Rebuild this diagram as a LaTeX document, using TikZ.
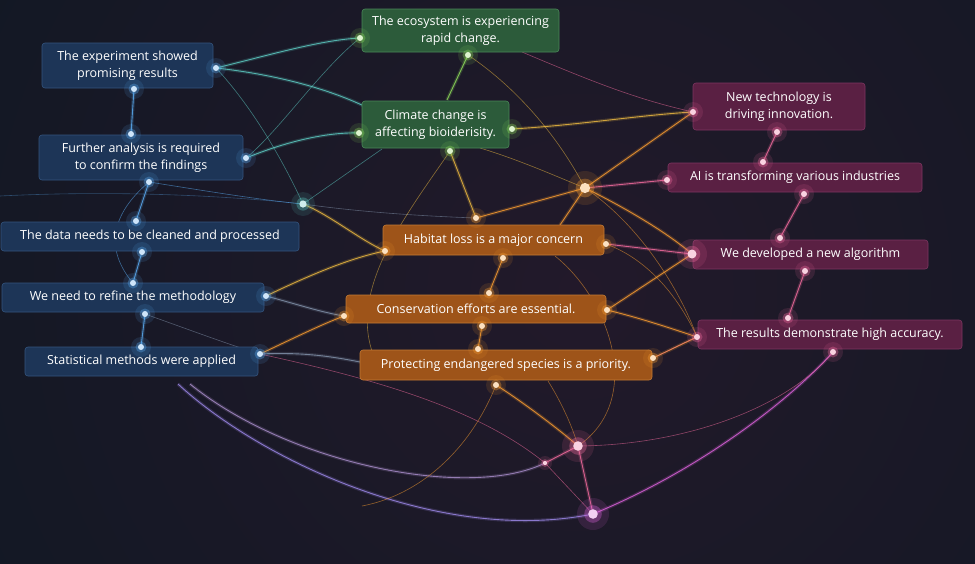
\documentclass[tikz,border=0pt]{standalone}
\usepackage{fontspec}
\setmainfont{Open Sans}
\definecolor{bg}{HTML}{121824}
\definecolor{bfill}{HTML}{1D3557}
\definecolor{bdraw}{HTML}{34547E}
\definecolor{gfill}{HTML}{2C5B3A}
\definecolor{gdraw}{HTML}{4A8758}
\definecolor{ofill}{HTML}{9E5419}
\definecolor{odraw}{HTML}{C47A34}
\definecolor{pfill}{HTML}{5A2043}
\definecolor{pdraw}{HTML}{7D3560}
\definecolor{cblue}{HTML}{5AAAF0}
\definecolor{cteal}{HTML}{5CC8C0}
\definecolor{cgreen}{HTML}{8EDB5A}
\definecolor{cyel}{HTML}{E8B640}
\definecolor{corange}{HTML}{F59A30}
\definecolor{cpink}{HTML}{F06A9C}
\definecolor{cmag}{HTML}{D860D8}
\definecolor{cgray}{HTML}{8090A8}
\definecolor{warm}{HTML}{22192A}
\newcommand{\glowdot}[3][1]{%
  \fill[#3, opacity=0.13] (#2) circle ({#1*10pt});
  \fill[#3, opacity=0.35] (#2) circle ({#1*5.5pt});
  \fill[#3!30!white] (#2) circle ({#1*3pt});}
\begin{document}
\begin{tikzpicture}[x=1pt,y=-1pt,
  font=\fontsize{12.5}{17}\selectfont,
  box/.style={rounded corners=3pt, align=center, text=white, inner sep=0pt, line width=0.6pt},
  bbox/.style={box, fill=bfill, draw=bdraw},
  gbox/.style={box, fill=gfill, draw=gdraw},
  obox/.style={box, fill=ofill, draw=odraw},
  pbox/.style={box, fill=pfill, draw=pdraw},
  ln/.style={line width=0.9pt, draw=#1, opacity=0.85, preaction={draw=#1, line width=3.4pt, opacity=0.2}},
  fl/.style={line width=0.6pt, draw=#1, opacity=0.55},
]
\useasboundingbox (0,0) rectangle (975,563);
\begin{scope}
\clip (0,0) rectangle (975,563);
\shade[inner color=warm, outer color=bg] (580,290) circle (700pt);
\end{scope}

% ---------- anchor points ----------
\coordinate (b1e) at (216,68);  \coordinate (b1s) at (134,89);
\coordinate (b2n) at (131,134); \coordinate (b2e) at (246,158); \coordinate (b2s) at (149,182);
\coordinate (b3n) at (136,221); \coordinate (b3s) at (142,252);
\coordinate (b4n) at (133,283); \coordinate (b4e) at (266,296); \coordinate (b4s) at (145,314);
\coordinate (b5n) at (141,347); \coordinate (b5e) at (260,354);
\coordinate (hubA) at (303,204);
\coordinate (lft) at (0,196);
\coordinate (g1w) at (360,38);  \coordinate (g1s) at (468,55); \coordinate (g1se) at (522,52);
\coordinate (g2n) at (447,100); \coordinate (g2w) at (359,133); \coordinate (g2e) at (512,129);
\coordinate (g2s) at (450,151); \coordinate (g2tl) at (364,106); \coordinate (g2bl) at (382,149);
\coordinate (g2se) at (480,148);
\coordinate (o1n) at (476,218); \coordinate (o1e) at (606,244); \coordinate (o1s) at (503,258);
\coordinate (o1w) at (385,251); \coordinate (o1tr) at (560,225); \coordinate (o1br) at (555,256);
\coordinate (o2n) at (489,293); \coordinate (o2w) at (344,316); \coordinate (o2e) at (607,310);
\coordinate (o2s) at (482,326);
\coordinate (o3n) at (478,349); \coordinate (o3e) at (653,358); \coordinate (o3s) at (496,385);
\coordinate (o3w) at (360,362); \coordinate (o3tl) at (372,351); \coordinate (o3b) at (548,381);
\coordinate (hubO) at (585,188);
\coordinate (p1w) at (693,112); \coordinate (p1s) at (777,132);
\coordinate (p2n) at (763,162); \coordinate (p2w) at (667,180); \coordinate (p2s) at (804,194);
\coordinate (p3n) at (780,238); \coordinate (p3w) at (692,254); \coordinate (p3s) at (805,271);
\coordinate (p4n) at (788,318); \coordinate (p4w) at (697,337); \coordinate (p4s) at (833,352);
\coordinate (hubP) at (578,446); \coordinate (hubM) at (593,514); \coordinate (smallP) at (545,463);
\coordinate (lowA) at (178,384); \coordinate (lowB) at (190,384); \coordinate (endF) at (362,506);

% ---------- connectors ----------
% left blue chain
\draw[ln=cblue] (b1s) -- (b2n);
\draw[ln=cblue] (b2s) -- (b3n);
\draw[ln=cblue] (b3s) -- (b4n);
\draw[ln=cblue] (b4s) -- (b5n);
\draw[fl=cblue] (b2s) .. controls (110,215) and (105,250) .. (b4n);
\draw[ln=cteal] (b1e) .. controls (270,55) and (320,40) .. (g1w);
\draw[ln=cteal] (b1e) .. controls (280,75) and (330,90) .. (g2tl);
\draw[fl=cteal] (b1e) .. controls (255,110) and (285,165) .. (hubA);
\draw[ln=cteal] (b2e) .. controls (290,140) and (330,132) .. (g2w);
\draw[fl=cteal] (b2e) .. controls (280,130) and (320,70) .. (g1w);
\draw[fl=cblue] (b2s) .. controls (200,190) and (260,200) .. (hubA);
\draw[fl=cblue, opacity=0.35] (lft) .. controls (120,190) and (230,196) .. (hubA);
\draw[fl=cteal] (hubA) -- (g2bl);
\draw[ln=cyel] (hubA) .. controls (330,215) and (360,240) .. (o1w);
\draw[fl=cgray] (hubA) .. controls (360,212) and (420,216) .. (o1n);
% green
\draw[ln=cgreen] (g1s) -- (g2n);
\draw[fl=cyel] (g1s) .. controls (520,90) and (560,140) .. (hubO);
\draw[fl=cpink] (g1se) .. controls (600,85) and (640,100) .. (p1w);
\draw[ln=cyel] (g2e) .. controls (580,125) and (640,115) .. (p1w);
\draw[ln=cyel] (g2s) -- (o1n);
\draw[fl=cyel] (g2se) .. controls (520,160) and (560,178) .. (hubO);
\draw[fl=cyel] (g2s) .. controls (410,210) and (350,285) .. (o3tl);
% orange hub
\draw[ln=corange] (hubO) -- (p1w);
\draw[ln=cpink] (hubO) -- (p2w);
\draw[ln=corange] (hubO) -- (o1n);
\draw[ln=corange] (hubO) -- (o1tr);
\draw[ln=corange] (hubO) .. controls (630,210) and (670,235) .. (p3w);
\draw[fl=corange] (hubO) .. controls (640,225) and (680,290) .. (p4w);
\draw[ln=cpink] (o1e) -- (p3w);
\draw[fl=corange] (o1e) .. controls (650,260) and (680,300) .. (p4w);
\draw[ln=corange] (o2e) -- (p3w);
\draw[ln=corange] (o2e) .. controls (640,318) and (670,328) .. (p4w);
\draw[ln=corange] (o3e) -- (p4w);
\draw[fl=cpink] (o3e) .. controls (670,350) and (685,342) .. (p4w);
\draw[ln=corange] (o1s) -- (o2n);
\draw[ln=corange] (o2s) -- (o3n);
\draw[fl=corange] (o1br) .. controls (610,300) and (645,400) .. (hubP);
% left to orange
\draw[ln=cyel] (b4e) .. controls (310,275) and (350,258) .. (o1w);
\draw[ln=cgray] (b4e) .. controls (300,305) and (320,312) .. (o2w);
\draw[ln=corange] (b5e) .. controls (290,340) and (320,325) .. (o2w);
\draw[ln=cgray] (b5e) .. controls (300,352) and (330,356) .. (o3w);
\draw[fl=cpink] (b5e) .. controls (380,380) and (480,410) .. (smallP);
\draw[fl=cgray] (b4s) .. controls (190,330) and (230,345) .. (b5e);
% pink chain
\draw[ln=cpink] (p1s) -- (p2n);
\draw[ln=cpink] (p2s) -- (p3n);
\draw[ln=cpink] (p3s) -- (p4n);
% bottom curves
\draw[ln=cblue!50!cmag] (lowA) .. controls (260,460) and (440,545) .. (hubM);
\draw[ln=cmag] (hubM) .. controls (700,470) and (790,400) .. (p4s);
\draw[ln=cblue!50!cpink] (lowB) .. controls (290,465) and (470,500) .. (smallP);
\draw[ln=cpink] (smallP) -- (hubP);
\draw[fl=cpink] (smallP) -- (hubM);
\draw[fl=cpink] (hubP) .. controls (690,445) and (790,405) .. (p4s);
\draw[ln=corange] (o3s) .. controls (520,400) and (560,430) .. (hubP);
\draw[fl=corange] (o3b) .. controls (560,400) and (572,425) .. (hubP);
\draw[ln=cpink] (hubP) -- (hubM);
\draw[fl=corange] (o3s) .. controls (470,450) and (420,495) .. (endF);

% ---------- boxes ----------
\node[bbox, minimum width=171pt, minimum height=45pt] (B1) at (127.5,65.5) {The experiment showed\\promising results};
\node[bbox, minimum width=204pt, minimum height=45pt] (B2) at (141,157.5) {Further analysis is required\\to confirm the findings};
\node[bbox, minimum width=298pt, minimum height=29pt] (B3) at (150,236.5) {The data needs to be cleaned and processed};
\node[bbox, minimum width=262pt, minimum height=29pt] (B4) at (133,297.5) {We need to refine the methodology};
\node[bbox, minimum width=233pt, minimum height=29pt] (B5) at (141.5,361.5) {Statistical methods were applied};
\node[gbox, minimum width=197pt, minimum height=43pt] (G1) at (460.5,30.5) {The ecosystem is experiencing\\rapid change.};
\node[gbox, minimum width=147pt, minimum height=47pt] (G2) at (435.5,124.5) {Climate change is\\affecting bioiderisity.};
\node[obox, minimum width=221pt, minimum height=30pt] (O1) at (493.5,240) {Habitat loss is a major concern};
\node[obox, minimum width=260pt, minimum height=28pt] (O2) at (476,309) {Conservation efforts are essential.};
\node[obox, minimum width=292pt, minimum height=30pt] (O3) at (506,365) {Protecting endangered species is a priority.};
\node[pbox, minimum width=172pt, minimum height=47pt] (P1) at (779,106.5) {New technology is\\driving innovation.};
\node[pbox, minimum width=254pt, minimum height=29pt] (P2) at (795,177.5) {AI is transforming various industries};
\node[pbox, minimum width=235pt, minimum height=29pt] (P3) at (810.5,254.5) {We developed a new algorithm};
\node[pbox, minimum width=264pt, minimum height=29pt] (P4) at (830,334.5) {The results demonstrate high accuracy.};

% ---------- glowing dots ----------
\foreach \c in {b1e,b1s,b2n,b2e,b2s,b3n,b3s,b4n,b4e,b4s,b5n,b5e} {\glowdot{\c}{cblue}}
\glowdot[1.2]{hubA}{cteal}
\foreach \c in {g1w,g1s,g2w,g2e,g2s} {\glowdot{\c}{cgreen}}
\foreach \c in {o1n,o1e,o1s,o1w,o2n,o2w,o2e,o2s,o3n,o3e,o3s} {\glowdot{\c}{corange}}
\glowdot[1.7]{hubO}{corange}
\foreach \c in {p1w,p1s,p2n,p2w,p2s,p3n,p3s,p4n,p4w,p4s} {\glowdot{\c}{cpink}}
\glowdot[1.5]{p3w}{cpink}
\glowdot[1.6]{hubP}{cpink}
\glowdot[1.6]{hubM}{cmag}
\glowdot[0.7]{smallP}{cpink}
\end{tikzpicture}
\end{document}
